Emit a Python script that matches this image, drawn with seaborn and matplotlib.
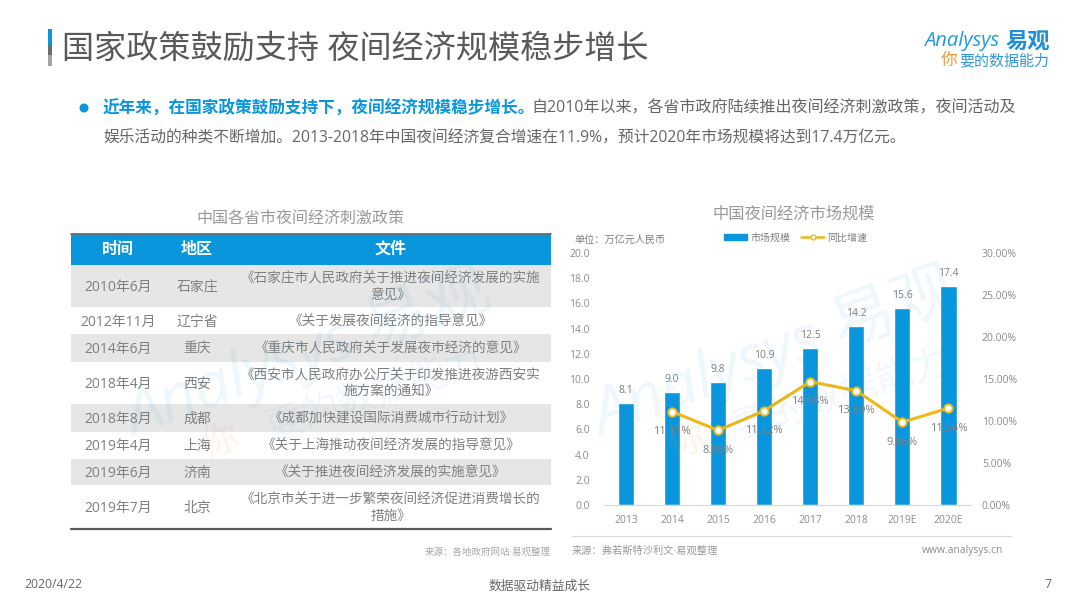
import numpy as np
import pandas as pd
import seaborn as sns
import matplotlib
matplotlib.use("Agg")
import matplotlib.pyplot as plt
from matplotlib.lines import Line2D
from matplotlib.patches import Patch, Rectangle, Circle

years = ['2013', '2014', '2015', '2016', '2017', '2018', '2019E', '2020E']
market = [8.1, 9.0, 9.8, 10.9, 12.5, 14.2, 15.6, 17.4]
growth_years = years[1:]
growth = [11.11, 8.89, 11.22, 14.68, 13.60, 9.86, 11.54]

table_head = ['时间', '地区', '文件']
table_time = ['2010年6月', '2012年11月', '2014年6月', '2018年4月', '2018年8月', '2019年4月', '2019年6月', '2019年7月']
table_area = ['石家庄', '辽宁省', '重庆', '西安', '成都', '上海', '济南', '北京']
table_doc = [
    '《石家庄市人民政府关于推进夜间经济发展的实施\n意见》',
    '《关于发展夜间经济的指导意见》',
    '《重庆市人民政府关于发展夜市经济的意见》',
    '《西安市人民政府办公厅关于印发推进夜游西安实\n施方案的通知》',
    '《成都加快建设国际消费城市行动计划》',
    '《关于上海推动夜间经济发展的指导意见》',
    '《关于推进夜间经济发展的实施意见》',
    '《北京市关于进一步繁荣夜间经济促进消费增长的\n措施》',
]
row_edges = [265, 307, 334, 361.5, 404, 431.5, 458.5, 485, 529]

BLUE = '#0A96DC'
YELLOW = '#EDB818'
GRAY = '#7F7F7F'
W, H = 1080, 608

sns.set_theme(style='white')
plt.rcParams['font.family'] = ['Open Sans', 'Noto Sans CJK SC', 'DejaVu Sans']
plt.rcParams['axes.unicode_minus'] = False

fig = plt.figure(figsize=(W / 100, H / 100), dpi=100, facecolor='white')

# chart axes, placed by pixels
ax = fig.add_axes([603 / W, 1 - 505 / H, 368.5 / W, 252 / H])
df = pd.DataFrame({'year': years, 'market': market})
sns.barplot(data=df, x='year', y='market', color=BLUE, saturation=1, width=0.35, ax=ax)
ax.set_ylim(0, 20)
ax.set_yticks(np.arange(0, 20.1, 2))
ax.set_yticklabels([f'{v:.1f}' for v in np.arange(0, 20.1, 2)])
ax.set_xlim(-0.5, 7.5)
ax.set_xlabel('')
ax.set_ylabel('')
ax.bar_label(ax.containers[0], fmt='%.1f', padding=5, fontsize=7.5, color=GRAY)
ax.tick_params(axis='y', length=0, pad=9.5, labelsize=7.5, labelcolor='#8C8C8C')
ax.tick_params(axis='x', length=0, pad=7, labelsize=7.5, labelcolor='#8C8C8C')
sns.despine(ax=ax, left=True)
ax.spines['bottom'].set_color('#D9D9D9')
ax.spines['bottom'].set_linewidth(0.8)
ax.patch.set_alpha(0)

ax2 = ax.twinx()
df2 = pd.DataFrame({'year': growth_years, 'growth': growth})
sns.lineplot(data=df2, x='year', y='growth', sort=False, color=YELLOW, linewidth=2.2,
             marker='o', markersize=6, markerfacecolor='white', markeredgecolor=YELLOW,
             markeredgewidth=1.4, ax=ax2)
ax2.set_ylim(0, 30)
ax2.set_yticks(np.arange(0, 30.1, 5))
ax2.set_yticklabels([f'{v:.2f}%' for v in np.arange(0, 30.1, 5)])
ax2.set_xlim(-0.5, 7.5)
ax2.set_ylabel('')
ax2.set_xlabel('')
ax2.tick_params(axis='y', length=0, pad=7.5, labelsize=7.5, labelcolor='#8C8C8C')
for s in ax2.spines.values():
    s.set_visible(False)
for name, v in zip(growth_years, growth):
    ax2.annotate(f'{v:.2f}%', (years.index(name), v), xytext=(0, -14.5), textcoords='offset points',
                 ha='center', va='center', fontsize=8, color=GRAY)

handles = [Patch(color=BLUE, label='市场规模'),
           Line2D([], [], color=YELLOW, lw=1.8, marker='o', ms=3.5, mfc='white', label='同比增速')]
fig.legend(handles=handles, ncol=2, loc='center', bbox_to_anchor=(795.5 / W, 1 - 238 / H), frameon=False,
           fontsize=7.2, labelcolor=GRAY, handlelength=2.3, handleheight=0.45, columnspacing=1.1, handletextpad=0.3)

# page layer in pixel coordinates
page = fig.add_axes([0, 0, 1, 1], zorder=5)
page.set_xlim(0, W)
page.set_ylim(H, 0)
page.axis('off')
page.patch.set_alpha(0)

# header
page.add_patch(Rectangle((48, 29), 4, 16, color=BLUE, lw=0))
page.add_patch(Rectangle((48, 45), 4, 10, color='#6E6E6E', lw=0))
page.add_patch(Rectangle((48, 55), 4, 11, color='#A6A6A6', lw=0))
page.text(62, 49, '国家政策鼓励支持 夜间经济规模稳步增长', fontsize=23.1, color='#595959', va='center')

# logo
page.text(924, 41, 'Analysys', fontsize=14.5, color='#1F9BDC', style='italic', va='center')
page.text(1006, 42, '易观', fontsize=16, color='#1F8FD8', weight='bold', va='center')
page.text(941, 61, '你', fontsize=12, color='#EE9A3A', style='italic', va='center')
page.text(959, 62, '要的数据能力', fontsize=10.8, color='#2E9BD8', style='italic', va='center')

# intro text
page.add_patch(Circle((84, 108), 4.5, color=BLUE, lw=0))
page.text(103, 109, '近年来，在国家政策鼓励支持下，夜间经济规模稳步增长。', fontsize=12, color=BLUE, weight='bold', va='center')
page.text(531, 109, '自2010年以来，各省市政府陆续推出夜间经济刺激政策，夜间活动及', fontsize=11.5, color='#666666', va='center')
page.text(103, 139, '娱乐活动的种类不断增加。2013-2018年中国夜间经济复合增速在11.9%，预计2020年市场规模将达到17.4万亿元。',
          fontsize=11.35, color='#666666', va='center')

# table
page.text(300, 220, '中国各省市夜间经济刺激政策', fontsize=11.5, color='#999999', ha='center', va='center')
page.add_patch(Rectangle((71, 234), 480, 31, color=BLUE, lw=0))
page.plot([71, 551], [234, 234], color='#666666', lw=1.2)
for x, label in zip([118, 197, 391], table_head):
    page.text(x, 250, label, fontsize=11.5, color='white', weight='bold', ha='center', va='center')
for i in range(len(table_time)):
    top, bottom = row_edges[i], row_edges[i + 1]
    if i % 2 == 0:
        page.add_patch(Rectangle((71, top), 480, bottom - top, color='#E6E6E6', lw=0))
    mid = (top + bottom) / 2 + 1.5
    page.text(118, mid, table_time[i], fontsize=10, color=GRAY, ha='center', va='center')
    page.text(197, mid, table_area[i], fontsize=10, color=GRAY, ha='center', va='center')
    page.text(391, mid, table_doc[i], fontsize=9.8, color=GRAY, ha='center', va='center', linespacing=1.15)
page.plot([71, 551], [529, 529], color='#595959', lw=1.6)

# chart furniture
page.text(793.5, 215, '中国夜间经济市场规模', fontsize=11.7, color='#999999', ha='center', va='center')
page.text(574, 240, '单位：万亿元人民币', fontsize=7.3, color=GRAY, va='center')
page.plot([572, 1011], [536, 536], color='#D9D9D9', lw=0.8)

# sources and footer
page.text(551, 552, '来源：各地政府网站·易观整理', fontsize=6.8, color='#A6A6A6', ha='right', va='center')
page.text(572, 551, '来源：弗若斯特沙利文·易观整理', fontsize=7.4, color='#999999', va='center')
page.text(922, 551, 'www.analysys.cn', fontsize=7.4, color='#8C8C8C', va='center')
page.text(24, 585, '2020/4/22', fontsize=8.8, color='#666666', va='center')
page.text(540, 586, '数据驱动精益成长', fontsize=9.2, color='#666666', ha='center', va='center')
page.text(1048, 585, '7', fontsize=8.8, color='#666666', ha='center', va='center')

# watermarks
for shift in [0, -467]:
    page.text(775 + shift, 355, 'Analysys 易观', fontsize=46, color='#1F9BDC', alpha=0.08, style='italic',
              rotation=20, ha='center', va='center')
    page.text(843 + shift, 395, '要的数据能力', fontsize=27, color='#1F9BDC', alpha=0.07,
              rotation=18, ha='center', va='center')
    page.text(687 + shift, 443, '你', fontsize=27, color='#EE9A3A', alpha=0.1,
              rotation=18, ha='center', va='center')

fig.savefig('out.png', dpi=100)
